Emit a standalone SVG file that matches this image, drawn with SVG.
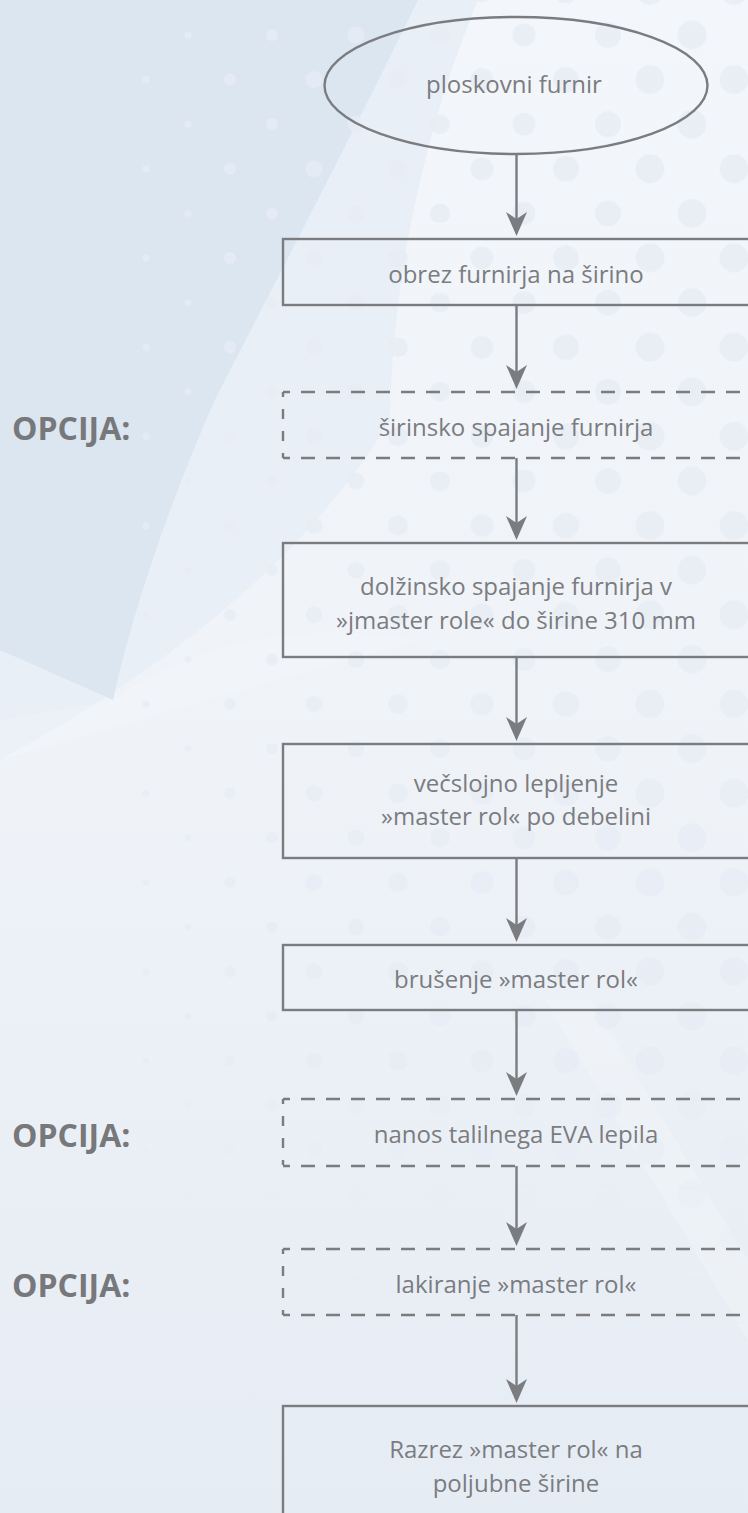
<svg xmlns="http://www.w3.org/2000/svg" width="748" height="1513" viewBox="0 0 748 1513">
<style>
.t{font-family:"Open Sans","DejaVu Sans",sans-serif;font-size:24px;fill:#7b7c80;text-anchor:middle}
.op{font-family:"Open Sans","DejaVu Sans",sans-serif;font-size:32px;font-weight:700;fill:#77787b}
.box{fill:none;stroke:#7b7c80;stroke-width:2.4}
.dh{fill:none;stroke:#7b7c80;stroke-width:2.4;stroke-dasharray:14 11;stroke-dashoffset:7}
.dv{fill:none;stroke:#7b7c80;stroke-width:2.4;stroke-dasharray:5 12 10 12 10 12 5}
.ln{fill:none;stroke:#7b7c80;stroke-width:2.4}
.dot{fill:#e8edf5}
</style>
<defs>
<linearGradient id="bgG" x1="0" y1="0" x2="0" y2="1513" gradientUnits="userSpaceOnUse">
<stop offset="0" stop-color="#f3f6fa"/>
<stop offset="0.5" stop-color="#eff3f8"/>
<stop offset="1" stop-color="#e6ecf4"/>
</linearGradient>
<linearGradient id="fadeG" x1="0" y1="0" x2="0" y2="1513" gradientUnits="userSpaceOnUse">
<stop offset="0" stop-color="#fff"/>
<stop offset="0.72" stop-color="#fff"/>
<stop offset="0.88" stop-color="#000"/>
</linearGradient>
<mask id="fade" maskUnits="userSpaceOnUse" x="0" y="0" width="748" height="1513">
<rect width="748" height="1513" fill="url(#fadeG)"/>
</mask>
<pattern id="p1" patternUnits="userSpaceOnUse" x="20" y="35" width="84" height="89.2"><g class="dot"><circle cx="0" cy="0" r="3.5"/><circle cx="84" cy="0" r="3.5"/><circle cx="0" cy="89.2" r="3.5"/><circle cx="84" cy="89.2" r="3.5"/><circle cx="42" cy="44.6" r="3.5"/></g></pattern>
<pattern id="p2" patternUnits="userSpaceOnUse" x="20" y="35" width="84" height="89.2"><g class="dot"><circle cx="0" cy="0" r="6"/><circle cx="84" cy="0" r="6"/><circle cx="0" cy="89.2" r="6"/><circle cx="84" cy="89.2" r="6"/><circle cx="42" cy="44.6" r="6"/></g></pattern>
<pattern id="p3" patternUnits="userSpaceOnUse" x="20" y="35" width="84" height="89.2"><g class="dot"><circle cx="0" cy="0" r="8.5"/><circle cx="84" cy="0" r="8.5"/><circle cx="0" cy="89.2" r="8.5"/><circle cx="84" cy="89.2" r="8.5"/><circle cx="42" cy="44.6" r="8.5"/></g></pattern>
<pattern id="p4" patternUnits="userSpaceOnUse" x="20" y="35" width="84" height="89.2"><g class="dot"><circle cx="0" cy="0" r="10"/><circle cx="84" cy="0" r="10"/><circle cx="0" cy="89.2" r="10"/><circle cx="84" cy="89.2" r="10"/><circle cx="42" cy="44.6" r="10"/></g></pattern>
<pattern id="p5" patternUnits="userSpaceOnUse" x="20" y="35" width="84" height="89.2"><g class="dot"><circle cx="0" cy="0" r="11.5"/><circle cx="84" cy="0" r="11.5"/><circle cx="0" cy="89.2" r="11.5"/><circle cx="84" cy="89.2" r="11.5"/><circle cx="42" cy="44.6" r="11.5"/></g></pattern>
<pattern id="p6" patternUnits="userSpaceOnUse" x="20" y="35" width="84" height="89.2"><g class="dot"><circle cx="0" cy="0" r="13"/><circle cx="84" cy="0" r="13"/><circle cx="0" cy="89.2" r="13"/><circle cx="84" cy="89.2" r="13"/><circle cx="42" cy="44.6" r="13"/></g></pattern>
<pattern id="p7" patternUnits="userSpaceOnUse" x="20" y="35" width="84" height="89.2"><g class="dot"><circle cx="0" cy="0" r="14.5"/><circle cx="84" cy="0" r="14.5"/><circle cx="0" cy="89.2" r="14.5"/><circle cx="84" cy="89.2" r="14.5"/><circle cx="42" cy="44.6" r="14.5"/></g></pattern>
<path id="ah" d="M0,0 L-10.5,-24 L0,-17 L10.5,-24 Z" fill="#7b7c80"/>
</defs>

<g id="background">
<rect width="748" height="1513" fill="url(#bgG)"/>
<path d="M0,0 L478,0 C420,140 392,290 390,420 C330,520 220,640 0,760 Z" fill="#e9eff6"/>
<path d="M0,0 L418,0 C330,180 250,330 215,400 C175,490 135,600 113,700 L0,650 Z" fill="#dce6f1"/>
<path d="M113,700 C200,640 300,620 420,640 L0,760 L0,720 Z" fill="#ffffff" opacity="0.12"/>
<path d="M545,1000 L590,1000 L748,1260 L748,1340 Z" fill="#ffffff" opacity="0.18"/>
<g mask="url(#fade)" opacity="0.8">
<rect x="125" y="0" width="84" height="1513" fill="url(#p1)"/>
<rect x="209" y="0" width="84" height="1513" fill="url(#p2)"/>
<rect x="293" y="0" width="84" height="1513" fill="url(#p3)"/>
<rect x="377" y="0" width="84" height="1513" fill="url(#p4)"/>
<rect x="461" y="0" width="84" height="1513" fill="url(#p5)"/>
<rect x="545" y="0" width="84" height="1513" fill="url(#p6)"/>
<rect x="629" y="0" width="119" height="1513" fill="url(#p7)"/>
</g>
</g>

<g id="connectors">
<line class="ln" x1="516.5" y1="154" x2="516.5" y2="220"/><use href="#ah" x="516.5" y="236"/>
<line class="ln" x1="516.5" y1="305" x2="516.5" y2="373"/><use href="#ah" x="516.5" y="389"/>
<line class="ln" x1="516.5" y1="458" x2="516.5" y2="524"/><use href="#ah" x="516.5" y="540"/>
<line class="ln" x1="516.5" y1="657" x2="516.5" y2="725"/><use href="#ah" x="516.5" y="741"/>
<line class="ln" x1="516.5" y1="858" x2="516.5" y2="926"/><use href="#ah" x="516.5" y="942"/>
<line class="ln" x1="516.5" y1="1010" x2="516.5" y2="1080"/><use href="#ah" x="516.5" y="1096"/>
<line class="ln" x1="516.5" y1="1166" x2="516.5" y2="1230"/><use href="#ah" x="516.5" y="1246"/>
<line class="ln" x1="516.5" y1="1315" x2="516.5" y2="1387"/><use href="#ah" x="516.5" y="1403"/>
</g>

<g id="n1">
<ellipse class="box" cx="516" cy="85.5" rx="191.5" ry="68.5"/>
<text class="t" x="514" y="93">ploskovni furnir</text>
</g>
<g id="n2">
<rect class="box" x="283" y="239" width="467" height="66"/>
<text class="t" x="516" y="283">obrez furnirja na širino</text>
</g>
<g id="n3">
<path class="dh" d="M283,392 H750 M283,458 H750"/>
<path class="dv" d="M283,392 V458"/>
<text class="t" x="516" y="436">širinsko spajanje furnirja</text>
</g>
<g id="n4">
<rect class="box" x="283" y="543" width="467" height="114"/>
<text class="t" x="516" y="595">dolžinsko spajanje furnirja v</text>
<text class="t" x="516" y="629">»jmaster role« do širine 310 mm</text>
</g>
<g id="n5">
<rect class="box" x="283" y="744" width="467" height="114"/>
<text class="t" x="516" y="792">večslojno lepljenje</text>
<text class="t" x="516" y="825">»master rol« po debelini</text>
</g>
<g id="n6">
<rect class="box" x="283" y="945" width="467" height="65"/>
<text class="t" x="516" y="988">brušenje »master rol«</text>
</g>
<g id="n7">
<path class="dh" d="M283,1099 H750 M283,1166 H750"/>
<path class="dv" d="M283,1099 V1166"/>
<text class="t" x="516" y="1143">nanos talilnega EVA lepila</text>
</g>
<g id="n8">
<path class="dh" d="M283,1249 H750 M283,1315 H750"/>
<path class="dv" d="M283,1249 V1315"/>
<text class="t" x="516" y="1293">lakiranje »master rol«</text>
</g>
<g id="n9">
<rect class="box" x="283" y="1406" width="467" height="130"/>
<text class="t" x="516" y="1458">Razrez »master rol« na</text>
<text class="t" x="516" y="1492">poljubne širine</text>
</g>

<g id="labels">
<text class="op" x="12" y="440">OPCIJA:</text>
<text class="op" x="12" y="1147">OPCIJA:</text>
<text class="op" x="12" y="1297">OPCIJA:</text>
</g>
</svg>
